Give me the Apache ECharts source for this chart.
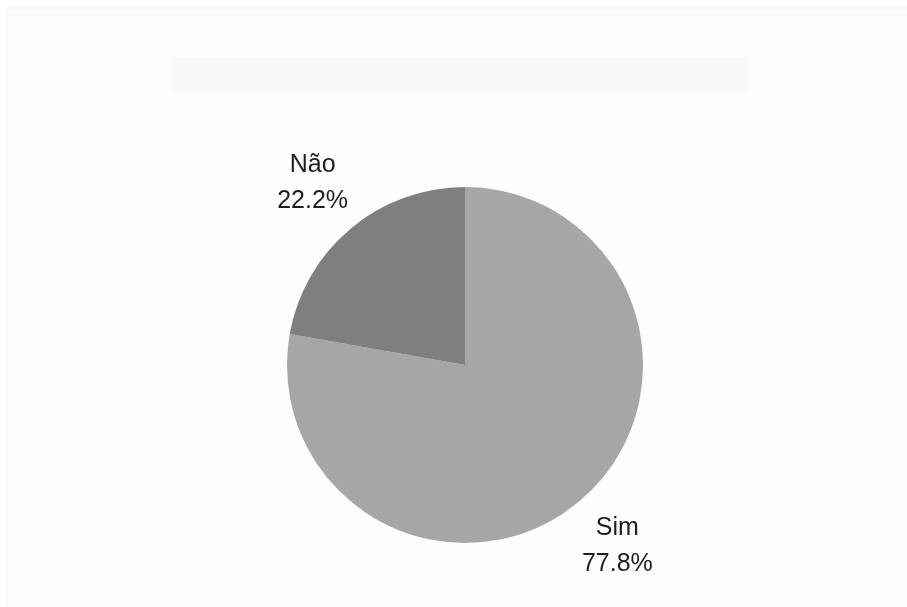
<!DOCTYPE html>
<html>
<head>
<meta charset="utf-8">
<script src="https://cdn.jsdelivr.net/npm/echarts@6/dist/echarts.min.js"></script>
<style>
  html, body { margin: 0; padding: 0; background: #ffffff; }
  #chart { width: 907px; height: 607px; }
</style>
</head>
<body>
<div id="chart"></div>
<script>
  // data
  const categories = ['Sim', 'Não'];
  const counts = [7, 2];
  const sliceColors = ['#a6a6a6', '#7f7f7f'];

  const pieData = categories.map((name, i) => ({
    name: name,
    value: counts[i],
    itemStyle: { color: sliceColors[i] }
  }));

  const chart = echarts.init(document.getElementById('chart'));

  const option = {
    backgroundColor: '#ffffff',
    animation: false,
    graphic: [
      // faint frame round the whole chart
      {
        type: 'rect',
        shape: { x: 7, y: 8, width: 910, height: 600 },
        style: { fill: '#fdfdfd', stroke: '#f0f0f0', lineWidth: 1 },
        z: -10
      },
      // empty title box
      {
        type: 'rect',
        shape: { x: 172, y: 57, width: 576, height: 35 },
        style: { fill: '#f9f9f9' },
        z: -9
      }
    ],
    series: [
      {
        type: 'pie',
        center: [465, 365],
        radius: [0, 178],
        startAngle: 90,
        clockwise: true,
        silent: true,
        label: { show: false },
        labelLine: { show: false },
        data: pieData
      },
      {
        // invisible ring that only carries the labels
        type: 'pie',
        center: [465, 365],
        radius: [178, 290],
        startAngle: 90,
        clockwise: true,
        silent: true,
        percentPrecision: 1,
        itemStyle: { color: 'rgba(0,0,0,0)' },
        label: {
          show: true,
          position: 'inside',
          formatter: '{b}\n{d}%',
          fontFamily: 'Liberation Sans',
          fontSize: 25,
          lineHeight: 36,
          color: '#1e1e1e',
          align: 'center'
        },
        labelLine: { show: false },
        data: categories.map((name, i) => ({
          name: name,
          value: counts[i],
          itemStyle: { color: 'rgba(0,0,0,0)' }
        }))
      }
    ]
  };

  chart.setOption(option);
</script>
</body>
</html>
